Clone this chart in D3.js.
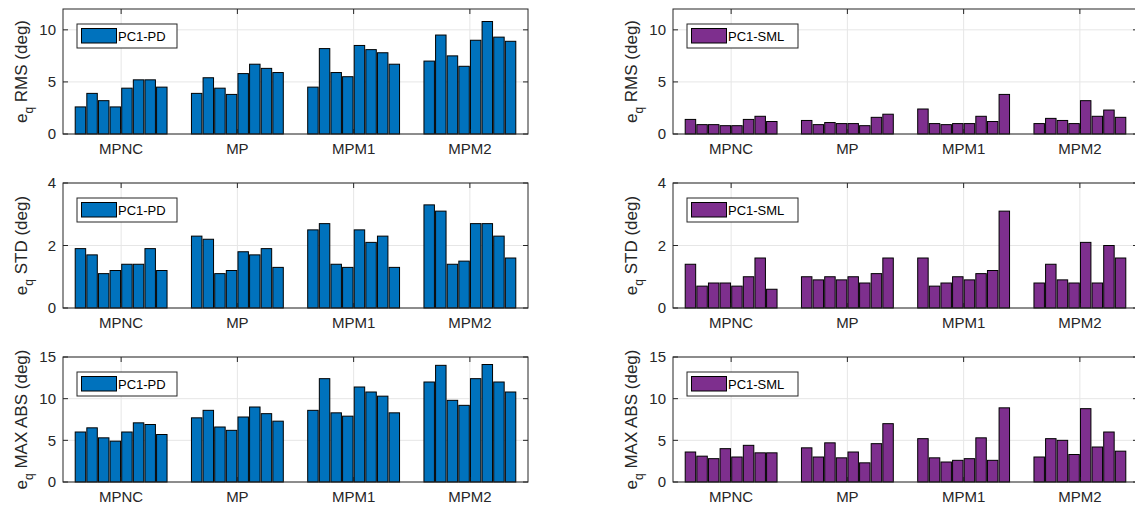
<!DOCTYPE html>
<html>
<head>
<meta charset="utf-8">
<script src="https://cdn.jsdelivr.net/npm/d3@7"></script>
<style>
  html, body { margin: 0; padding: 0; background: #fff; }
  svg text { font-family: "Liberation Sans", Arial, Helvetica, sans-serif; }
</style>
</head>
<body>
<svg id="chart" width="1135" height="511"></svg>
<script>
// ---- data ----
const categories = ["MPNC", "MP", "MPM1", "MPM2"];
const legendPD = "PC1-PD";
const legendSML = "PC1-SML";

const pdRMS = [
  [2.6, 3.9, 3.2, 2.6, 4.4, 5.2, 5.2, 4.5],
  [3.9, 5.4, 4.4, 3.8, 5.8, 6.7, 6.3, 5.9],
  [4.5, 8.2, 5.9, 5.5, 8.5, 8.1, 7.8, 6.7],
  [7.0, 9.5, 7.5, 6.5, 9.0, 10.8, 9.3, 8.9]
];
const pdSTD = [
  [1.9, 1.7, 1.1, 1.2, 1.4, 1.4, 1.9, 1.2],
  [2.3, 2.2, 1.1, 1.2, 1.8, 1.7, 1.9, 1.3],
  [2.5, 2.7, 1.4, 1.3, 2.5, 2.1, 2.3, 1.3],
  [3.3, 3.1, 1.4, 1.5, 2.7, 2.7, 2.3, 1.6]
];
const pdMAX = [
  [6.0, 6.5, 5.3, 4.9, 6.0, 7.1, 6.9, 5.7],
  [7.7, 8.6, 6.6, 6.2, 7.8, 9.0, 8.2, 7.3],
  [8.6, 12.4, 8.3, 7.9, 11.4, 10.8, 10.3, 8.3],
  [12.0, 14.0, 9.8, 9.2, 12.4, 14.1, 12.0, 10.8]
];
const smlRMS = [
  [1.4, 0.9, 0.9, 0.8, 0.8, 1.4, 1.7, 1.2],
  [1.3, 0.9, 1.1, 1.0, 1.0, 0.8, 1.6, 1.9],
  [2.4, 1.0, 0.9, 1.0, 1.0, 1.7, 1.2, 3.8],
  [1.0, 1.5, 1.3, 1.0, 3.2, 1.7, 2.3, 1.6]
];
const smlSTD = [
  [1.4, 0.7, 0.8, 0.8, 0.7, 1.0, 1.6, 0.6],
  [1.0, 0.9, 1.0, 0.9, 1.0, 0.8, 1.1, 1.6],
  [1.6, 0.7, 0.8, 1.0, 0.9, 1.1, 1.2, 3.1],
  [0.8, 1.4, 0.9, 0.8, 2.1, 0.8, 2.0, 1.6]
];
const smlMAX = [
  [3.6, 3.1, 2.8, 4.0, 3.0, 4.4, 3.5, 3.5],
  [4.1, 3.0, 4.7, 2.9, 3.6, 2.3, 4.6, 7.0],
  [5.2, 2.9, 2.4, 2.6, 2.8, 5.3, 2.6, 8.9],
  [3.0, 5.2, 5.0, 3.3, 8.8, 4.2, 6.0, 3.7]
];

const metricNames = ["RMS", "STD", "MAX ABS"];
const yMaxes = [12, 4, 15];
const yTicks = [[0, 5, 10], [0, 2, 4], [0, 5, 10, 15]];

const panels = [
  {row: 0, col: 0, data: pdRMS, legend: legendPD},
  {row: 1, col: 0, data: pdSTD, legend: legendPD},
  {row: 2, col: 0, data: pdMAX, legend: legendPD},
  {row: 0, col: 1, data: smlRMS, legend: legendSML},
  {row: 1, col: 1, data: smlSTD, legend: legendSML},
  {row: 2, col: 1, data: smlMAX, legend: legendSML}
];

// ---- layout ----
const colors = ["#0072BD", "#7E2F8E"];
const colLeft = [63, 673];
const axW = 465;
const rowTop = [9, 183, 357];
const axH = 125;
const axisColor = "#262626";
const gridColor = "#e6e6e6";
const tickLen = 5;

const svg = d3.select("#chart");

panels.forEach(p => {
  const x0 = colLeft[p.col], y0 = rowTop[p.row];
  const g = svg.append("g").attr("transform", `translate(${x0},${y0})`);
  const x = d3.scaleLinear().domain([0.5, categories.length + 0.5]).range([0, axW]);
  const y = d3.scaleLinear().domain([0, yMaxes[p.row]]).range([axH, 0]);
  const ticks = yTicks[p.row];
  const catPos = categories.map((c, i) => i + 1);

  // grid
  g.selectAll(".gy").data(ticks).join("line")
    .attr("x1", 0).attr("x2", axW)
    .attr("y1", d => y(d)).attr("y2", d => y(d))
    .attr("stroke", gridColor).attr("stroke-width", 1);
  g.selectAll(".gx").data(catPos).join("line")
    .attr("x1", d => x(d)).attr("x2", d => x(d))
    .attr("y1", 0).attr("y2", axH)
    .attr("stroke", gridColor).attr("stroke-width", 1);

  // bars
  const nSeries = p.data[0].length;
  const slot = 0.1, bw = 0.09;
  p.data.forEach((grp, gi) => {
    g.selectAll(null).data(grp).join("rect")
      .attr("x", (d, j) => x(gi + 1 + (j - (nSeries - 1) / 2) * slot - bw / 2))
      .attr("width", x(bw) - x(0))
      .attr("y", d => y(d))
      .attr("height", d => y(0) - y(d))
      .attr("fill", colors[p.col])
      .attr("stroke", "#000")
      .attr("stroke-width", 1);
  });

  // axis box
  g.append("rect").attr("x", 0).attr("y", 0).attr("width", axW).attr("height", axH)
    .attr("fill", "none").attr("stroke", axisColor).attr("stroke-width", 1);

  // tick marks (inward, both sides)
  ticks.forEach(t => {
    g.append("line").attr("x1", 0).attr("x2", tickLen).attr("y1", y(t)).attr("y2", y(t))
      .attr("stroke", axisColor);
    g.append("line").attr("x1", axW).attr("x2", axW - tickLen).attr("y1", y(t)).attr("y2", y(t))
      .attr("stroke", axisColor);
  });
  catPos.forEach(c => {
    g.append("line").attr("x1", x(c)).attr("x2", x(c)).attr("y1", axH).attr("y2", axH - tickLen)
      .attr("stroke", axisColor);
    g.append("line").attr("x1", x(c)).attr("x2", x(c)).attr("y1", 0).attr("y2", tickLen)
      .attr("stroke", axisColor);
  });

  // y tick labels
  g.selectAll(".yl").data(ticks).join("text")
    .attr("x", -7).attr("y", d => y(d))
    .attr("dy", "0.35em").attr("text-anchor", "end")
    .attr("font-size", 15).attr("fill", axisColor)
    .text(d => d);

  // x category labels
  g.selectAll(".xl").data(categories).join("text")
    .attr("x", (d, i) => x(i + 1)).attr("y", axH + 8)
    .attr("dy", "0.8em").attr("text-anchor", "middle")
    .attr("font-size", 15).attr("fill", axisColor)
    .text(d => d);

  // y axis title
  const yt = g.append("text")
    .attr("transform", `translate(${-36},${axH / 2}) rotate(-90)`)
    .attr("text-anchor", "middle").attr("font-size", 17).attr("fill", axisColor);
  yt.append("tspan").text("e");
  yt.append("tspan").attr("font-size", 12).attr("dy", 6).text("q");
  yt.append("tspan").attr("dy", -6).text(" " + metricNames[p.row] + " (deg)");

  // legend
  const lg = g.append("g").attr("transform", `translate(${14},${15})`);
  const lw = p.col === 0 ? 100 : 111;
  lg.append("rect").attr("x", 0).attr("y", 0).attr("width", lw).attr("height", 24)
    .attr("fill", "#fff").attr("stroke", axisColor).attr("stroke-width", 1);
  lg.append("rect").attr("x", 4.5).attr("y", 4.5).attr("width", 35).attr("height", 14.5)
    .attr("fill", colors[p.col]).attr("stroke", "#000").attr("stroke-width", 1);
  lg.append("text").attr("x", 41).attr("y", 12).attr("dy", "0.36em")
    .attr("font-size", 13).attr("fill", "#000").text(p.legend);
});
</script>
</body>
</html>
